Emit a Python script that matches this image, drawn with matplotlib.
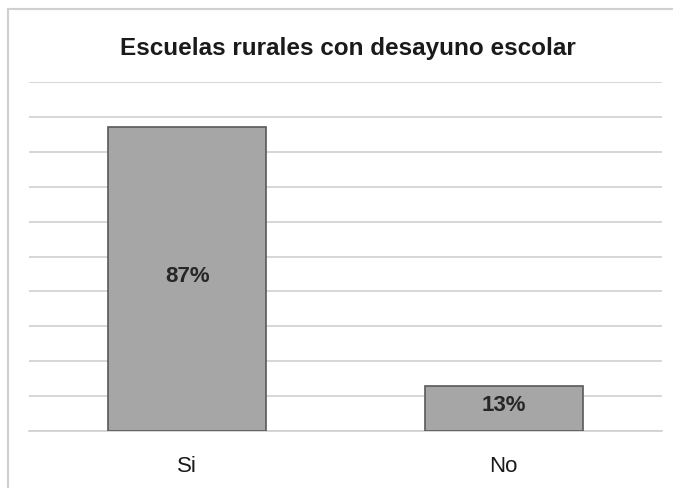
import matplotlib.pyplot as plt
from matplotlib.patches import Rectangle

categories = ['Si', 'No']
values = [0.87, 0.13]
labels = ['87%', '13%']
title = 'Escuelas rurales con desayuno escolar'

plt.rcParams['font.family'] = ['Liberation Sans', 'DejaVu Sans']

W, H = 673, 489
fig = plt.figure(figsize=(W / 100, H / 100), dpi=100)

# outer chart border (only left and top visible in the crop)
fig.patches.append(Rectangle((8 / W, -0.1), 1.2, 1 - 10 / H + 0.1, transform=fig.transFigure,
                             fill=False, edgecolor='#d0d0d0', linewidth=1.5))

ax = fig.add_axes([29 / W, 1 - 432 / H, (662 - 29) / W, (432 - 83) / H])
x = range(len(categories))
bars = ax.bar(x, values, width=0.5, color='#a6a6a6', edgecolor='#595959', linewidth=1.2, zorder=3)

for b, lab in zip(bars, labels):
    ax.annotate(lab, (b.get_x() + b.get_width() / 2, b.get_height() / 2),
                xytext=(0, 3), textcoords='offset points', ha='center', va='center',
                fontsize=16, fontweight='bold', color='#262626', zorder=4)

ax.set_xlim(-0.5, 1.5)
ax.set_ylim(0, 1)
ax.set_yticks([i / 10 for i in range(11)])
ax.yaxis.grid(True, color='#d0d0d0', linewidth=1.2, zorder=0)
ax.set_yticklabels([])
ax.tick_params(axis='y', length=0)
ax.set_xticks(list(x))
ax.set_xticklabels(categories, fontsize=16, color='#1a1a1a')
ax.tick_params(axis='x', length=0, pad=17)
for s in ['top', 'right', 'left']:
    ax.spines[s].set_visible(False)
ax.spines['bottom'].set_color('#d0d0d0')
ax.spines['bottom'].set_linewidth(1.2)

fig.text(347.5 / W, 1 - 49 / H, title, ha='center', va='center', fontsize=17.5,
         fontweight='bold', color='#1a1a1a')

fig.savefig('out.png', dpi=100)
